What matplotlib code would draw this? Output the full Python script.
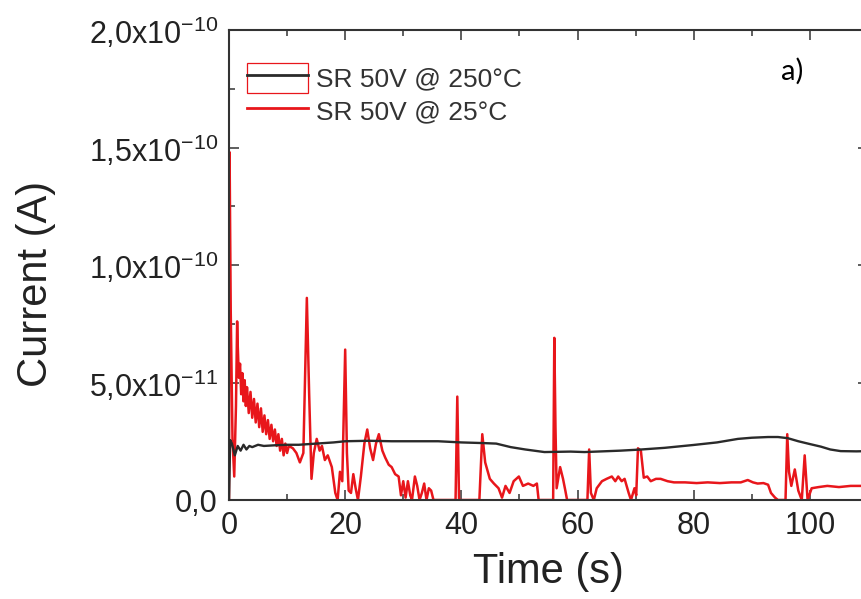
import matplotlib
matplotlib.use("Agg")
import matplotlib.pyplot as plt
from matplotlib.ticker import MultipleLocator, FixedLocator
from matplotlib.patches import Patch
from matplotlib.lines import Line2D
from matplotlib.legend_handler import HandlerTuple

# --- data (current in units of 1e-11 A) ---
t_250 = [0, 0.2, 0.5, 1.0, 1.5, 2.0, 2.5, 3.0, 3.5, 4.0, 5.0, 6.0, 8.0, 10.0, 12.0,
         15.0, 18.0, 20.0, 24.0, 28.0, 32.0, 36.0, 40.0, 44.0, 46.0, 48.5, 51.0,
         54.3, 58.8, 61.2, 67.4, 71.0, 75.0, 79.9, 84.0, 87.6, 90.0, 92.8, 94.5,
         96.2, 98.0, 100.0, 101.9, 103.5, 105.3, 108.0, 110.0]
i_250 = [0, 2.55, 2.4, 1.9, 2.3, 2.1, 2.35, 2.15, 2.3, 2.25, 2.35, 2.3, 2.33, 2.35, 2.35,
         2.4, 2.45, 2.5, 2.52, 2.5, 2.5, 2.5, 2.45, 2.42, 2.4, 2.25, 2.15,
         2.04, 2.06, 2.04, 2.1, 2.15, 2.22, 2.34, 2.45, 2.6, 2.65, 2.68, 2.68,
         2.63, 2.5, 2.38, 2.27, 2.15, 2.08, 2.07, 2.08]

t_25 = [0, 0.1, 0.3, 0.6, 0.9, 1.2, 1.4, 1.5, 1.7, 1.9, 2.1, 2.3, 2.5, 2.7, 2.9, 3.1,
        3.4, 3.7, 4.0, 4.3, 4.6, 4.9, 5.2, 5.5, 5.8, 6.1, 6.4, 6.7, 7.0, 7.3, 7.6,
        7.9, 8.2, 8.5, 8.8, 9.1, 9.4, 9.7, 10.0, 10.3,
        11.0, 11.6, 12.2, 12.8, 13.4, 13.8, 14.2, 14.6, 15.1, 15.6, 16.0, 16.5,
        17.0, 17.7, 18.3, 18.7, 19.1, 19.5, 20.0, 20.3, 20.6, 21.0, 21.4, 21.8,
        22.2, 22.7, 23.3, 23.8, 24.3, 24.8, 25.3, 25.8, 26.4, 26.9, 27.5, 28.0,
        28.6, 29.2, 29.6, 30.0, 30.4, 30.8, 31.2, 31.5, 32.0, 32.4, 32.8, 33.2,
        33.6, 34.0, 34.4, 34.8, 35.2,
        39.0, 39.3, 39.6, 43.1, 43.6, 44.1, 44.9, 45.6, 46.4, 47.0, 47.6, 48.3,
        49.0, 49.9, 50.6, 51.5, 52.4, 53.0, 53.3,
        55.8, 56.0, 56.2, 56.4, 57.0, 57.5, 57.9, 58.2,
        61.7, 62.0, 62.3, 62.8, 63.3, 64.2, 65.0, 65.9, 66.5, 67.0, 67.6, 68.1,
        68.8, 69.2, 69.8, 70.1, 70.4, 70.9, 71.4, 72.0, 72.6, 73.5, 74.3, 75.5,
        76.6, 78.5, 80.5, 82.4, 84.5, 86.5, 88.1, 89.3, 90.2, 91.0, 92.0, 92.8,
        93.3, 94.0, 94.5,
        95.8, 96.1, 96.4, 96.8, 97.4, 98.0, 98.6, 99.1, 99.6, 100.3, 101.5, 103.0,
        105.0, 107.0, 109.0, 110.0]
i_25 = [0, 14.8, 8.0, 2.6, 1.0, 4.0, 7.6, 6.6, 5.2, 5.8, 4.5, 5.4, 4.2, 5.1, 4.0, 4.8,
        3.7, 4.6, 3.5, 4.3, 3.3, 4.1, 3.1, 3.9, 2.9, 3.6, 2.8, 3.4, 2.6, 3.2, 2.5,
        3.0, 2.3, 2.8, 2.1, 2.6, 1.9, 2.4, 2.0, 2.3,
        2.2, 2.0, 1.6, 2.0, 8.6, 4.5, 0.9, 2.0, 2.6, 2.1, 2.3, 1.7,
        1.9, 1.4, 0.3, 0, 1.2, 0.8, 6.4, 2.0, 0.4, 0.3, 1.1, 0.5,
        0, 1.0, 2.4, 3.0, 2.2, 1.7, 2.4, 2.8, 2.1, 1.8, 1.5, 1.4,
        1.1, 1.0, 0.2, 0.8, 0.1, 0.8, 0.2, 0, 1.0, 0.6, 0, 0.3,
        0.7, 0, 0.5, 0.4, 0,
        0, 4.4, 0, 0, 2.8, 1.6, 0.9, 0.7, 0.5, 0.1, 0.6, 0.3,
        0.8, 1.0, 0.6, 0.7, 0.6, 0.7, 0,
        0, 6.9, 3.1, 0.5, 1.4, 0.9, 0.4, 0,
        0, 2.15, 0.3, 0, 0.5, 0.8, 0.9, 1.0, 0.8, 1.0, 0.8, 0.9,
        0.3, 0, 0.5, 0.2, 2.2, 2.1, 0.95, 1.0, 0.8, 0.9, 0.9, 0.8,
        0.75, 0.75, 0.72, 0.75, 0.72, 0.75, 0.75, 0.85, 0.75, 0.7, 0.72, 0.65,
        0.3, 0.1, 0,
        0, 2.8, 1.2, 0.6, 1.3, 0.4, 0, 1.9, 0, 0.5, 0.55, 0.6,
        0.55, 0.6, 0.6, 0.6]

labels = ['SR 50V @ 250°C', 'SR 50V @ 25°C']
ytick_vals = [0, 5e-11, 1e-10, 1.5e-10, 2e-10]
ytick_text = ['0,0', r'5,0x10$^{\mathregular{-11}}$', r'1,0x10$^{\mathregular{-10}}$',
              r'1,5x10$^{\mathregular{-10}}$', r'2,0x10$^{\mathregular{-10}}$']
xtick_vals = [0, 20, 40, 60, 80, 100]

assert len(t_25) == len(i_25) and len(t_250) == len(i_250)

plt.rcParams['font.family'] = ['Liberation Sans', 'DejaVu Sans']
plt.rcParams['mathtext.fontset'] = 'custom'
plt.rcParams['mathtext.rm'] = 'Liberation Sans'

fig = plt.figure(figsize=(8.61, 5.99), dpi=100)
ax = fig.add_axes([229 / 861, 99 / 599, 639 / 861, 470 / 599])

red = '#e8161b'
blk = '#2a2a2a'
ax.plot(t_25, [v * 1e-11 for v in i_25], color=red, lw=1.8, zorder=2)
ax.plot(t_250, [v * 1e-11 for v in i_250], color=blk, lw=1.7, zorder=3)

ax.set_xlim(0, 110)
ax.set_ylim(0, 2e-10)
ax.set_xticks(xtick_vals)
ax.xaxis.set_minor_locator(MultipleLocator(10))
ax.yaxis.set_major_locator(FixedLocator(ytick_vals))
ax.set_yticklabels(ytick_text)
ax.yaxis.set_minor_locator(MultipleLocator(2.5e-11))

ax.tick_params(which='both', direction='in', top=True, right=True,
               colors='#333333', labelcolor='#222222', width=1.1)
ax.tick_params(which='major', length=7, labelsize=22)
ax.tick_params(axis='y', which='major', pad=8)
ax.tick_params(axis='x', which='major', pad=8)
ax.tick_params(which='minor', length=4)
for sp in ax.spines.values():
    sp.set_linewidth(1.5)
    sp.set_color('#333333')

ax.set_xlabel('Time (s)', fontsize=30, color='#222222', labelpad=8)
ax.set_ylabel('Current (A)', fontsize=30, color='#222222')
ax.yaxis.set_label_coords(-0.27, 0.46)

# legend: first handle has a red box drawn round it
h1 = (Patch(facecolor='none', edgecolor=red, lw=0.9),
      Line2D([], [], color=blk, lw=2.0))
h2 = Line2D([], [], color=red, lw=2.0)
leg = ax.legend([h1, h2], labels, handler_map={tuple: HandlerTuple(ndivide=1, pad=0)},
                loc='upper left', bbox_to_anchor=(0.028, 0.93), frameon=False,
                fontsize=19, handlelength=2.3, handleheight=1.38,
                handletextpad=0.3, labelspacing=0.1, borderpad=0,
                borderaxespad=0)
for txt in leg.get_texts():
    txt.set_color('#333333')

fig.text(792 / 861, 1 - 71 / 599, 'a)', fontsize=21, family='Lato',
         ha='center', va='center', color='black')

fig.savefig('out.png', dpi=100)
